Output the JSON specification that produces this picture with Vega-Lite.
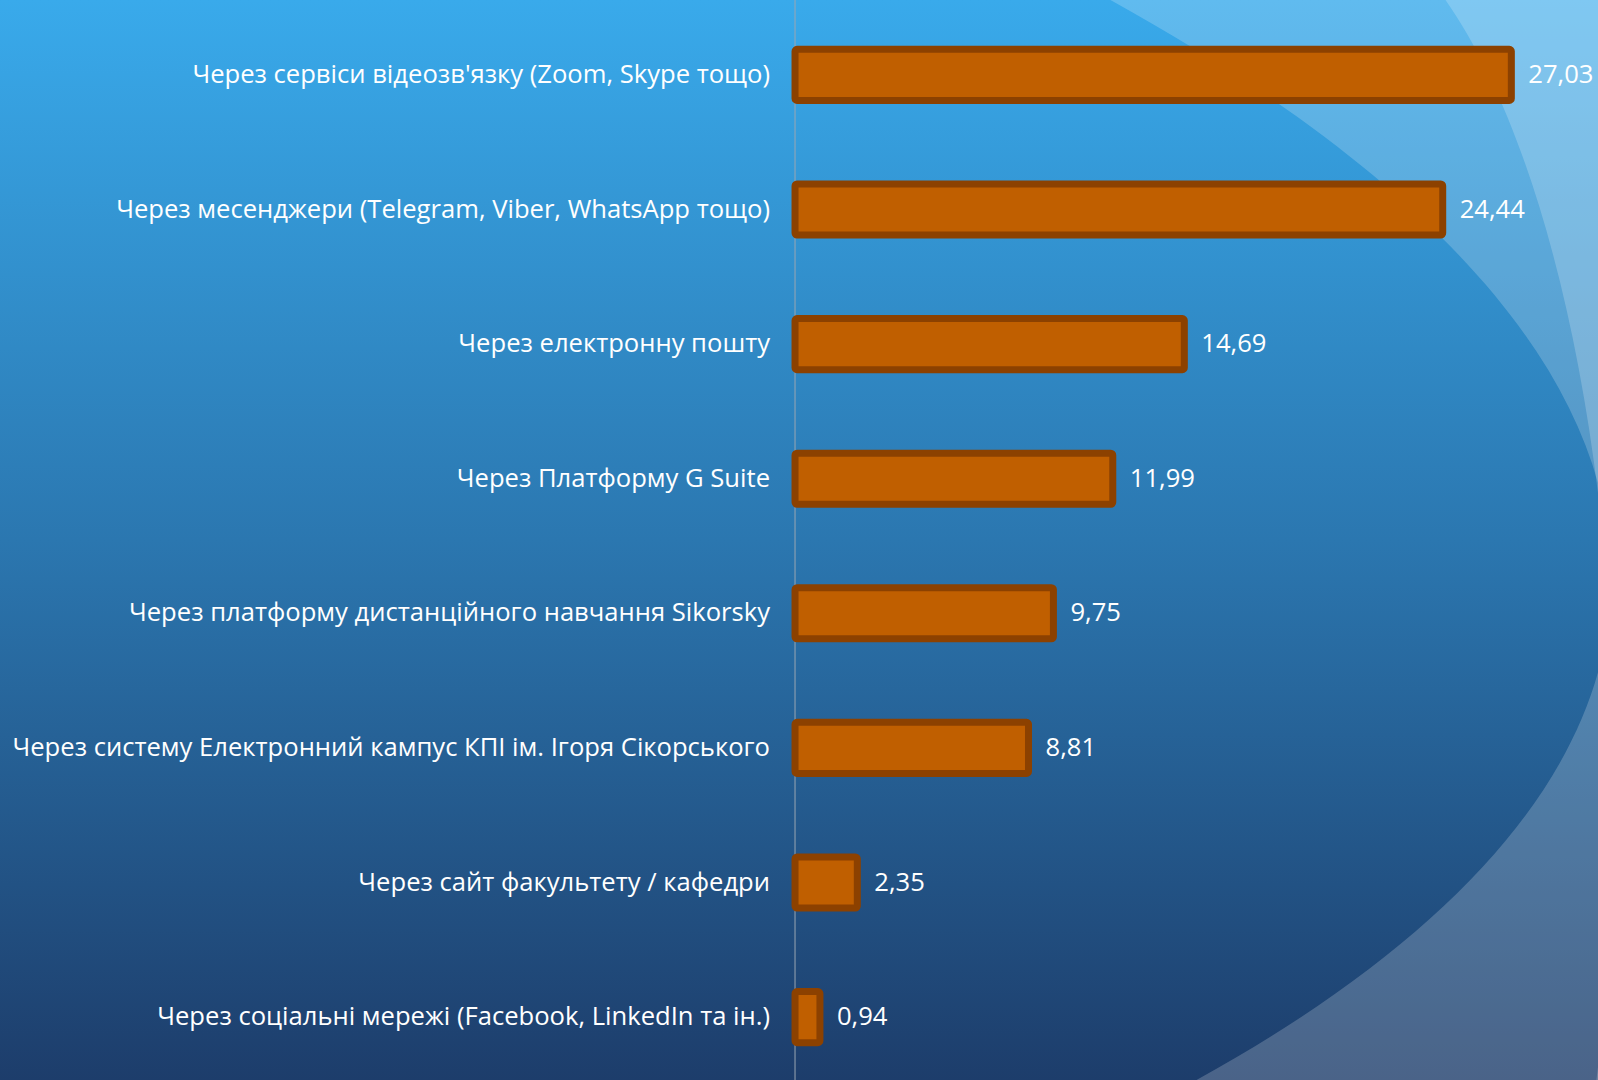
{
  "$schema": "https://vega.github.io/schema/vega-lite/v6.json",
  "width": 1598,
  "height": 1080,
  "autosize": "none",
  "padding": 0,
  "background": "#2b77b0",
  "config": {
    "view": {"stroke": null},
    "axis": {"disable": true},
    "locale": {"number": {"decimal": ",", "thousands": " ", "grouping": [3], "currency": ["", ""]}}
  },
  "data": {
    "values": [
      {"category": "Через сервіси відеозв'язку (Zoom, Skype тощо)", "value": 27.03},
      {"category": "Через месенджери (Telegram, Viber, WhatsApp тощо)", "value": 24.44},
      {"category": "Через електронну пошту", "value": 14.69},
      {"category": "Через Платформу G Suite", "value": 11.99},
      {"category": "Через платформу дистанційного навчання Sikorsky", "value": 9.75},
      {"category": "Через систему Електронний кампус КПІ ім. Ігоря Сікорського", "value": 8.81},
      {"category": "Через сайт факультету / кафедри", "value": 2.35},
      {"category": "Через соціальні мережі (Facebook, LinkedIn та ін.)", "value": 0.94}
    ]
  },
  "layer": [
    {
      "data": {"values": [{"layer": "background"}]},
      "mark": {
        "type": "rect",
        "fill": {"gradient": "linear", "x1": 0, "y1": 0, "x2": 0, "y2": 1,
          "stops": [
            {"offset": 0, "color": "#39aaeb"},
            {"offset": 0.5, "color": "#2b77b0"},
            {"offset": 1, "color": "#1d3d6b"}
          ]},
        "strokeWidth": 0
      },
      "encoding": {
        "x": {"value": 0}, "x2": {"value": "width"},
        "y": {"value": 0}, "y2": {"value": "height"}
      }
    },
    {
      "data": {"values": [{"layer": "glow outer"}]},
      "mark": {
        "type": "point",
        "shape": "M -7.8 -1.3 H 0.2 V 1.3 H -7.8 Z M 0 -0.0233 A 3.86 1.14 0 1 0 -7.72 -0.0233 A 3.86 1.14 0 1 0 0 -0.0233 Z",
        "size": 4000000,
        "angle": 2,
        "filled": true,
        "fill": "#ffffff",
        "opacity": 1,
        "fillOpacity": 0.2,
        "strokeWidth": 0,
        "clip": true
      },
      "encoding": {
        "x": {"datum": 30.755, "type": "quantitative"},
        "y": {"datum": "Через платформу дистанційного навчання Sikorsky", "type": "nominal"}
      }
    },
    {
      "data": {"values": [{"layer": "glow inner"}]},
      "mark": {
        "type": "point",
        "shape": "M -0.308 -1 H 0.2 V 1 H -0.308 Z M -0.308 0.9051 A 0.308 0.873 0 0 0 -0.308 -0.8409 Z",
        "size": 4000000,
        "filled": true,
        "fill": "#ffffff",
        "opacity": 1,
        "fillOpacity": 0.2,
        "strokeWidth": 0,
        "clip": true
      },
      "encoding": {
        "x": {"datum": 30.943, "type": "quantitative"},
        "y": {"datum": "Через систему Електронний кампус КПІ ім. Ігоря Сікорського", "type": "nominal"}
      }
    },
    {
      "data": {"values": [{"layer": "axis"}]},
      "mark": {"type": "rule", "color": "#9aa6b2", "strokeWidth": 1},
      "encoding": {"x": {"datum": 0, "type": "quantitative"}}
    },
    {
      "mark": {"type": "bar", "fill": "#c05f00", "stroke": "#8c4100", "strokeWidth": 7, "cornerRadius": 2},
      "encoding": {
        "y": {
          "field": "category", "type": "nominal", "sort": null, "axis": null,
          "scale": {
            "type": "band",
            "domain": [
              "Через сервіси відеозв'язку (Zoom, Skype тощо)",
              "Через месенджери (Telegram, Viber, WhatsApp тощо)",
              "Через електронну пошту",
              "Через Платформу G Suite",
              "Через платформу дистанційного навчання Sikorsky",
              "Через систему Електронний кампус КПІ ім. Ігоря Сікорського",
              "Через сайт факультету / кафедри",
              "Через соціальні мережі (Facebook, LinkedIn та ін.)"
            ],
            "range": [7.6, 1084.4], "paddingInner": 0.62, "paddingOuter": 0.31
          }
        },
        "x": {
          "field": "value", "type": "quantitative", "axis": null,
          "scale": {"domain": [-30, 30.3], "nice": false, "zero": false}
        },
        "x2": {"datum": 0}
      }
    },
    {
      "mark": {"type": "text", "align": "right", "baseline": "middle", "dx": -25, "font": "Open Sans", "fontSize": 25.6, "color": "#ffffff"},
      "encoding": {
        "y": {"field": "category", "type": "nominal", "sort": null, "axis": null},
        "x": {"datum": 0, "type": "quantitative"},
        "text": {"field": "category", "type": "nominal"}
      }
    },
    {
      "mark": {"type": "text", "align": "left", "baseline": "middle", "dx": 17, "font": "Open Sans", "fontSize": 25.6, "color": "#ffffff"},
      "encoding": {
        "y": {"field": "category", "type": "nominal", "sort": null, "axis": null},
        "x": {"field": "value", "type": "quantitative", "axis": null},
        "text": {"field": "value", "type": "quantitative", "format": ".2f"}
      }
    }
  ]
}
